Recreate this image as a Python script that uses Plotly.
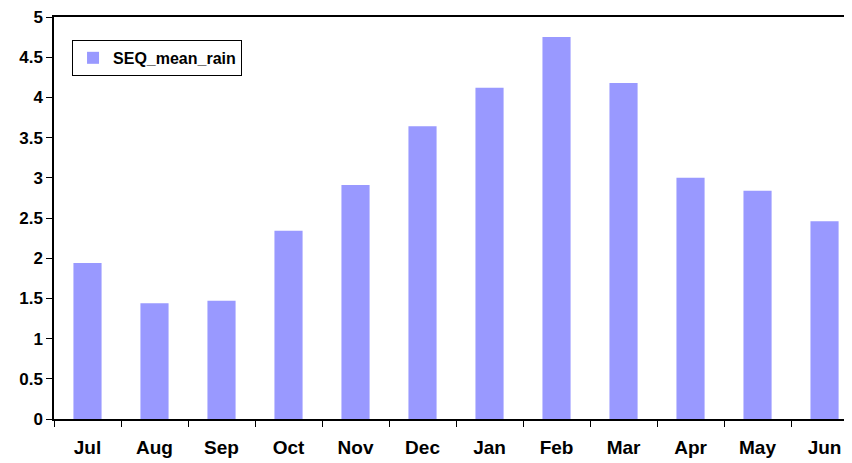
import plotly.graph_objects as go

months = ["Jul", "Aug", "Sep", "Oct", "Nov", "Dec", "Jan", "Feb", "Mar", "Apr", "May", "Jun"]
seq_mean_rain = [1.94, 1.44, 1.47, 2.34, 2.91, 3.64, 4.12, 4.75, 4.18, 3.00, 2.84, 2.46]
y_ticks = [0, 0.5, 1, 1.5, 2, 2.5, 3, 3.5, 4, 4.5, 5]
y_tick_labels = ["0", "0.5", "1", "1.5", "2", "2.5", "3", "3.5", "4", "4.5", "5"]

fig = go.Figure()
fig.add_trace(go.Bar(
    x=months, y=seq_mean_rain, name="SEQ_mean_rain",
    marker=dict(color="#9999FF", line=dict(width=0)),
    width=0.42, showlegend=True,
))

# page body has an 8px default margin; margins compensate for it
fig.update_layout(
    width=852, height=463,
    margin=dict(l=46, r=8, t=9, b=52, autoexpand=False),
    paper_bgcolor="white", plot_bgcolor="white",
    font=dict(family="Liberation Sans, Arial, sans-serif", color="black"),
    showlegend=True,
    legend=dict(
        x=0.0226, y=0.943, xanchor="left", yanchor="top",
        bordercolor="black", borderwidth=1, bgcolor="white",
        font=dict(size=16, family="Liberation Sans, Arial, sans-serif", weight="bold"),
        itemsizing="constant", itemwidth=30, tracegroupgap=0,
    ),
    xaxis=dict(
        range=[-0.5, 11.41], showgrid=False, zeroline=False,
        showline=True, linecolor="black", linewidth=1.5, mirror=True,
        ticks="outside", ticklen=6, tickcolor="black", tickson="boundaries",
        tickfont=dict(size=19, weight="bold"), ticklabelstandoff=10,
        automargin=False, fixedrange=True,
    ),
    yaxis=dict(
        range=[0, 5], tickvals=y_ticks, ticktext=y_tick_labels,
        showgrid=False, zeroline=False,
        showline=True, linecolor="black", linewidth=1.5,
        ticks="outside", ticklen=6, tickcolor="black",
        tickfont=dict(size=17, weight="bold"), ticklabeloverflow="allow",
        automargin=False, fixedrange=True,
    ),
)

fig.write_html("out.html")
